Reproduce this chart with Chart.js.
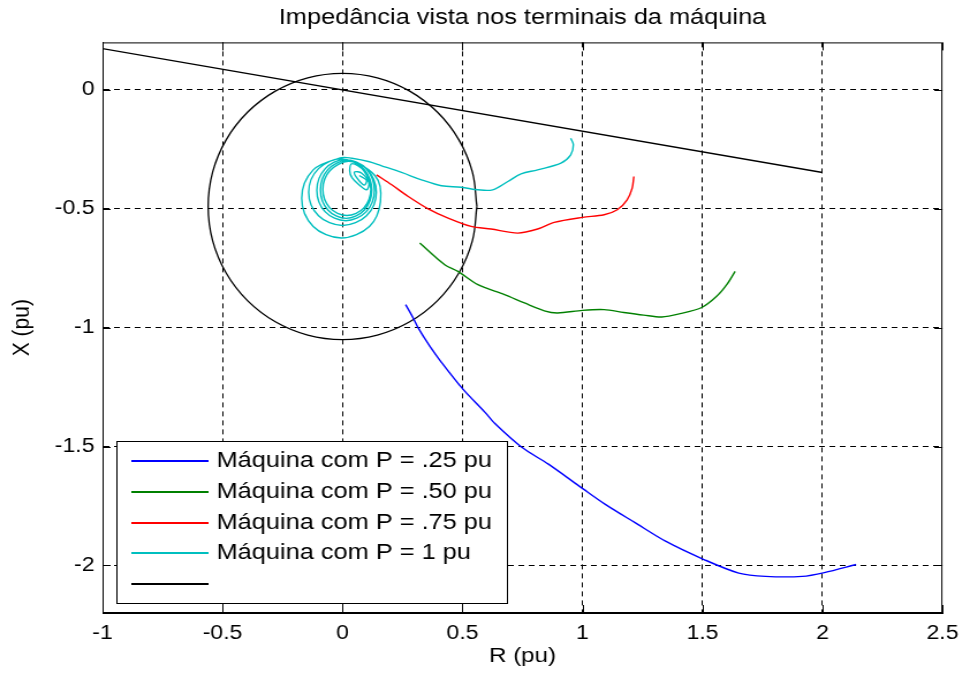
<!DOCTYPE html>
<html>
<head>
<meta charset="utf-8">
<script src="https://cdn.jsdelivr.net/npm/chart.js@4"></script>
<style>
body { margin: 0; background: #fff; }
#wrap { width: 840px; height: 676px; transform: scale(1.152, 1); transform-origin: 0 0; }
</style>
</head>
<body>
<div id="wrap"><canvas id="impChart" width="840" height="676"></canvas></div>
<script>
// valores (R e X em pu)
const rotulos = ['Máquina com P = .25 pu', 'Máquina com P = .50 pu', 'Máquina com P = .75 pu', 'Máquina com P = 1 pu', ''];
const cores = ['#0000ff', '#008000', '#ff0000', '#00bfbf', '#000000'];

const rP025 = [0.263, 0.295, 0.316, 0.365, 0.406, 0.500, 0.593, 0.635, 0.747, 0.858, 1.004, 1.095, 1.219, 1.346, 1.506, 1.651, 1.763, 1.916, 2.008, 2.14];
const xP025 = [-0.903, -0.96, -1.002, -1.08, -1.137, -1.256, -1.355, -1.403, -1.503, -1.574, -1.679, -1.743, -1.82, -1.898, -1.975, -2.032, -2.046, -2.046, -2.03, -1.996];

const rP050 = [0.322, 0.426, 0.481, 0.564, 0.675, 0.758, 0.841, 0.896, 1.0, 1.09, 1.172, 1.255, 1.331, 1.407, 1.497, 1.559, 1.601, 1.636];
const xP050 = [-0.644, -0.735, -0.763, -0.819, -0.861, -0.896, -0.929, -0.938, -0.927, -0.924, -0.936, -0.947, -0.955, -0.941, -0.915, -0.868, -0.819, -0.763];

const rP075 = [0.142, 0.205, 0.274, 0.357, 0.44, 0.536, 0.619, 0.73, 0.813, 0.882, 1.0, 1.09, 1.145, 1.186, 1.207, 1.214];
const xP075 = [-0.357, -0.399, -0.448, -0.5, -0.539, -0.574, -0.585, -0.602, -0.585, -0.557, -0.536, -0.525, -0.504, -0.462, -0.413, -0.364];

const rP100 = [0.951, 0.962, 0.951, 0.91, 0.813, 0.744, 0.689, 0.626, 0.564, 0.495, 0.412, 0.329, 0.246, 0.163, 0.108, 0.039,
  -0.005, -0.122, -0.170, -0.122, -0.005, 0.112, 0.158, 0.135,
  0.0, -0.1, -0.141, -0.1, 0.0, 0.1, 0.141, 0.1,
  0.01, -0.072, -0.107, -0.072, 0.013, 0.098, 0.133, 0.098,
  0.02, -0.061, -0.092, -0.061, 0.015, 0.091, 0.122, 0.091,
  0.025, -0.053, -0.082, -0.053, 0.018, 0.089, 0.118, 0.089,
  0.04, 0.03, 0.04, 0.07, 0.10, 0.11, 0.08, 0.05, 0.06, 0.09, 0.10, 0.07];
const xP100 = [-0.203, -0.231, -0.273, -0.308, -0.336, -0.353, -0.385, -0.42, -0.42, -0.409, -0.403, -0.378, -0.347, -0.319, -0.301, -0.287,
  -0.285, -0.336, -0.455, -0.574, -0.623, -0.574, -0.47, -0.36,
  -0.29, -0.331, -0.43, -0.529, -0.57, -0.529, -0.43, -0.331,
  -0.292, -0.331, -0.422, -0.513, -0.55, -0.513, -0.422, -0.331,
  -0.295, -0.335, -0.42, -0.505, -0.54, -0.505, -0.42, -0.335,
  -0.30, -0.34, -0.418, -0.496, -0.528, -0.496, -0.418, -0.34,
  -0.31, -0.34, -0.37, -0.40, -0.42, -0.39, -0.35, -0.345, -0.37, -0.40, -0.38, -0.36];

const rReta = [-1, 2];
const xReta = [0.174, -0.347];

const rCirculo = [0.56, 0.541, 0.485, 0.396, 0.28, 0.145, 0, -0.145, -0.28, -0.396, -0.485, -0.541, -0.56,
  -0.541, -0.485, -0.396, -0.28, -0.145, 0, 0.145, 0.28, 0.396, 0.485, 0.541, 0.56];
const xCirculo = [-0.49, -0.345, -0.21, -0.094, -0.005, 0.051, 0.07, 0.051, -0.005, -0.094, -0.21, -0.345, -0.49,
  -0.635, -0.77, -0.886, -0.975, -1.031, -1.05, -1.031, -0.975, -0.886, -0.77, -0.635, -0.49];

const xTicks = { min: -1, max: 2.5, step: 0.5 };
const yTicks = { min: -2.2, max: 0.2, step: 0.5 };

const pontos = (r, x) => r.map((v, i) => ({ x: v, y: x[i] }));
const fonte = '"Liberation Sans", Arial, sans-serif';
const rotuloTick = v => String(Math.round(v * 10) / 10);
// grade tracejada, mas sem repetir as linhas que caem sobre a moldura
const corGrade = lim => c => (c.tick && (c.tick.value === lim.min || c.tick.value === lim.max)) ? 'rgba(0,0,0,0)' : '#000';

// moldura com marcas internas (estilo MATLAB) e legenda dentro do grafico
const moldura = {
  id: 'moldura',
  afterDatasetsDraw(chart) {
    const { ctx, chartArea: a, scales } = chart;
    ctx.save();
    ctx.setLineDash([]);
    ctx.globalAlpha = 1;
    ctx.strokeStyle = '#000';
    ctx.lineWidth = 1;
    ctx.strokeRect(a.left + 0.5, a.top + 0.5, a.right - a.left - 1, a.bottom - a.top - 1);
    ctx.beginPath();
    scales.x.ticks.forEach(t => {
      const px = Math.round(scales.x.getPixelForValue(t.value)) + 0.5;
      ctx.moveTo(px, a.bottom); ctx.lineTo(px, a.bottom - 8);
      ctx.moveTo(px, a.top); ctx.lineTo(px, a.top + 8);
    });
    scales.y.ticks.forEach(t => {
      const py = Math.round(scales.y.getPixelForValue(t.value)) + 0.5;
      ctx.moveTo(a.left, py); ctx.lineTo(a.left + 7, py);
      ctx.moveTo(a.right, py); ctx.lineTo(a.right - 7, py);
    });
    ctx.stroke();

    const itens = chart.data.datasets.filter(d => d.naLegenda);
    const left = Math.round(a.left + 12), right = Math.round(a.left + 351);
    const bottom = Math.round(a.bottom - 10), top = bottom - 162;
    ctx.fillStyle = '#fff';
    ctx.fillRect(left, top, right - left, bottom - top);
    ctx.strokeStyle = '#000';
    ctx.strokeRect(left + 0.5, top + 0.5, right - left, bottom - top);
    ctx.font = '22px ' + fonte;
    ctx.textBaseline = 'middle';
    ctx.textAlign = 'left';
    itens.forEach((d, i) => {
      const y = Math.round(top + 20 + i * 30.8);
      ctx.fillStyle = d.cor;
      ctx.fillRect(left + 13, y - 1, 67, 2);
      ctx.fillStyle = '#000';
      ctx.fillText(d.label, left + 87, y);
    });
    ctx.restore();
  }
};

const serie = (r, x, i, tension) => ({
  label: rotulos[i], data: pontos(r, x), borderColor: cores[i], backgroundColor: cores[i], cor: cores[i],
  showLine: true, pointRadius: 0, borderWidth: 1.4, tension: tension, naLegenda: true
});

const ctx = document.getElementById('impChart').getContext('2d');
const impChart = new Chart(ctx, {
  type: 'scatter',
  data: {
    datasets: [
      serie(rP025, xP025, 0, 0.3),
      serie(rP050, xP050, 1, 0.3),
      serie(rP075, xP075, 2, 0.3),
      serie(rP100, xP100, 3, 0.35),
      serie(rReta, xReta, 4, 0),
      { label: '', data: pontos(rCirculo, xCirculo), borderColor: '#000', cor: '#000', showLine: true, pointRadius: 0,
        borderWidth: 1.3, tension: 0.4, naLegenda: false }
    ]
  },
  plugins: [moldura],
  options: {
    responsive: false,
    animation: false,
    layout: { padding: { left: 0, right: 18, top: 0, bottom: 0 } },
    plugins: {
      legend: { display: false },
      tooltip: { enabled: false },
      title: {
        display: true, fullSize: false, text: 'Impedância vista nos terminais da máquina',
        color: '#000', font: { family: fonte, size: 22, weight: 'normal' }, padding: { top: 5, bottom: 11 }
      }
    },
    scales: {
      x: {
        type: 'linear', position: 'bottom', min: xTicks.min, max: xTicks.max,
        afterFit: s => { s.height = 63; },
        ticks: { stepSize: xTicks.step, includeBounds: false, color: '#000', padding: 8,
          font: { family: fonte, size: 20 }, callback: rotuloTick },
        grid: { color: corGrade(xTicks), lineWidth: 1, drawTicks: false },
        border: { color: '#000', width: 1, dash: [5, 4] },
        title: { display: true, text: 'R (pu)', color: '#000', font: { family: fonte, size: 21 }, padding: { top: 0, bottom: 7 } }
      },
      y: {
        type: 'linear', position: 'left', min: yTicks.min, max: yTicks.max,
        afterFit: s => { s.width = 89; },
        ticks: { stepSize: yTicks.step, includeBounds: false, color: '#000', padding: 7,
          font: { family: fonte, size: 20 }, callback: rotuloTick },
        grid: { color: corGrade(yTicks), lineWidth: 1, drawTicks: false },
        border: { color: '#000', width: 1, dash: [5, 4] },
        title: { display: true, text: 'X (pu)', color: '#000', font: { family: fonte, size: 21 }, padding: { top: 7, bottom: 0 } }
      }
    }
  }
});
</script>
</body>
</html>
